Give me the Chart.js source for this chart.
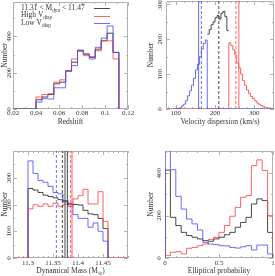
<!DOCTYPE html>
<html><head><meta charset="utf-8">
<script src="https://cdn.jsdelivr.net/npm/chart.js@4/dist/chart.umd.min.js"></script>
<style>
html,body{margin:0;padding:0;background:#fff;width:275px;height:276px;overflow:hidden;}
canvas{position:absolute;}
</style></head><body>
<canvas id="c1" width="137" height="138" style="left:0;top:0"></canvas>
<canvas id="c2" width="138" height="138" style="left:137px;top:0"></canvas>
<canvas id="c3" width="137" height="138" style="left:0;top:138px"></canvas>
<canvas id="c4" width="138" height="138" style="left:137px;top:138px"></canvas>
<script>
// ---------- DATA ----------
// Panel 1: redshift histograms
const zEdges = [0.04,0.0452,0.0503,0.0555,0.0606,0.0658,0.0709,0.0761,0.0812,0.0864,0.0915,0.0967,0.1018,0.107,0.1121];
const zAll  = [51,66,80,139,148,208,258,321,303,285,330,376,418,312];
const zHigh = [66,80,84,148,161,208,276,318,294,289,321,376,376,276];
const zLow  = [38,57,55,117,117,212,239,325,303,276,340,391,458,312];
const zTicks = [0.02,0.04,0.06,0.08,0.1,0.12];
const zTickLabels = ['0.02','0.04','0.06','0.08','0.1','0.12'];
const n1Ticks = [0,200,400];

// Panel 2: velocity dispersion histograms (5 km/s bins)
const vLowStart = 95, vMidStart = 180, vHighStart = 235, vBin = 5;
const vLow  = [0,1,2,4,9,14,24,38,52,68,88,112,128,150,172,188,198];
const vMid  = [215,228,242,250,262,268,258,275,280,265,225];
const vHigh = [190,182,170,155,132,118,100,82,68,55,45,36,30,24,18,14,10,8,5,4,2,1,0];
const vLines = {lowMed:158, lowDash:165, allDash:209.5, highDash:253, highMed:260.5};
const vTicks = [100,200,300];
const n2Ticks = [0,100,200,300];

// Panel 3: dynamical mass histograms (0.01 dex bins)
const mEdges = [11.30,11.31,11.32,11.33,11.34,11.35,11.36,11.37,11.38,11.39,11.40,11.41,11.42,11.43,11.44,11.45,11.46];
const mAll  = [260,254,245,235,230,225,218,210,203,200,198,178,165,162,148,110];
const mHigh = [184,199,193,202,193,205,193,201,193,221,233,257,202,202,248,137];
const mLow  = [363,316,290,283,268,245,240,215,200,162,148,148,115,131,100,63];
const mLines = {lowDash:11.3567, allDash:11.3687, allMed:11.374, allMed2:11.3787, highDash:11.3853, highMed:11.388};
const mTicks = [11.3,11.35,11.4,11.45];
const mTickLabels = ['11.3','11.35','11.4','11.45'];
const n3Ticks = [0,100,200,300];

// Panel 4: elliptical probability histograms (0.05 bins)
const pEdges = [0,0.05,0.1,0.15,0.2,0.25,0.3,0.35,0.4,0.45,0.5,0.55,0.6,0.65,0.7,0.75,0.8,0.85,0.9,0.95,1];
const pAll  = [415,192,153,121,106,98,90,82,79,90,98,110,121,145,168,192,255,279,271,121];
const pHigh = [11,27,30,19,46,50,58,66,87,98,121,153,197,239,287,295,436,463,413,200];
const pLow  = [560,417,291,231,184,161,132,74,66,63,58,57,50,47,53,58,38,61,61,19];
const pTicks = [0,0.5,1];
const pTickLabels = ['0','0.5','1'];
const n4Ticks = [0,200,400];

// ---------- STYLE ----------
const BLACK = 'rgba(40,40,40,0.85)';
const RED = 'rgba(255,70,70,0.85)';
const BLUE = 'rgba(70,70,255,0.8)';
const FRAME = '#b0b0b0';
const TEXT = '#333';
const FAM = "'Liberation Serif', 'DejaVu Serif', serif";

function edgesFrom(start, width, n) { const e = []; for (let i = 0; i <= n; i++) e.push(start + i * width); return e; }
function stepPts(edges, vals, opt) {
  opt = opt || {};
  const pts = [];
  if (opt.lead !== undefined) pts.push({x: opt.lead, y: 0});
  else if (!opt.noRise) pts.push({x: edges[0], y: 0});
  vals.forEach((v, i) => pts.push({x: edges[i], y: v}));
  if (opt.noDrop) pts.push({x: edges[edges.length - 1], y: vals[vals.length - 1]});
  else pts.push({x: edges[edges.length - 1], y: 0});
  if (opt.trail !== undefined) pts.push({x: opt.trail, y: 0});
  return pts;
}
function hist(data, color) {
  return {data, borderColor: color, borderWidth: 1, stepped: 'before', pointRadius: 0, fill: false};
}
function vline(x, yMax, color, dashed) {
  return {data: [{x, y: 0}, {x, y: yMax}], borderColor: color, borderWidth: 1, borderDash: dashed ? [3, 2] : [], pointRadius: 0, fill: false};
}

function richText(ctx, segs, x, y, size) {
  let cx = x;
  segs.forEach(s => {
    const fs = s.sub ? size * 0.7 : size;
    ctx.font = fs + 'px ' + FAM;
    ctx.fillText(s.t, cx, y + (s.sub ? size * 0.3 : 0));
    cx += ctx.measureText(s.t).width;
  });
  return cx - x;
}
function richWidth(ctx, segs, size) {
  let w = 0;
  segs.forEach(s => { ctx.font = (s.sub ? size * 0.7 : size) + 'px ' + FAM; w += ctx.measureText(s.t).width; });
  return w;
}

function deco(o) {
  return {
    id: 'deco',
    beforeDatasetsDraw(chart) {
      const {ctx, chartArea: a, scales: {x, y}} = chart;
      ctx.save();
      ctx.strokeStyle = FRAME; ctx.lineWidth = 1;
      ctx.beginPath();
      ctx.rect(a.left + 0.5, a.top + 0.5, a.right - a.left - 1, a.bottom - a.top - 1);
      const xt = (v, len) => { const p = Math.round(x.getPixelForValue(v)) + 0.5; ctx.moveTo(p, a.bottom); ctx.lineTo(p, a.bottom - len); ctx.moveTo(p, a.top); ctx.lineTo(p, a.top + len); };
      const yt = (v, len) => { const p = Math.round(y.getPixelForValue(v)) + 0.5; ctx.moveTo(a.left, p); ctx.lineTo(a.left + len, p); ctx.moveTo(a.right, p); ctx.lineTo(a.right - len, p); };
      x.ticks.forEach(t => xt(t.value, 4));
      y.ticks.forEach(t => yt(t.value, 4));
      const n0 = Math.ceil(x.min / o.xMinor - 1e-6), n1 = Math.floor(x.max / o.xMinor + 1e-6);
      for (let k = n0; k <= n1; k++) xt(k * o.xMinor, 2);
      const m0 = Math.ceil(y.min / o.yMinor - 1e-6), m1 = Math.floor(y.max / o.yMinor + 1e-6);
      for (let k = m0; k <= m1; k++) yt(k * o.yMinor, 2);
      ctx.stroke();
      ctx.restore();
    },
    afterDraw(chart) {
      const {ctx, chartArea: a, scales: {y}} = chart;
      ctx.save();
      ctx.fillStyle = TEXT;
      ctx.font = '7px ' + FAM;
      y.ticks.forEach(t => {
        const py = y.getPixelForValue(t.value);
        ctx.save();
        ctx.translate(a.left - o.yLabOff, py);
        ctx.rotate(-Math.PI / 2);
        ctx.textAlign = 'center'; ctx.textBaseline = 'middle';
        ctx.fillText(String(t.value), 0, 0);
        ctx.restore();
      });
      if (o.extra) o.extra(chart, ctx);
      ctx.restore();
    }
  };
}

function makeChart(id, c) {
  return new Chart(document.getElementById(id), {
    type: 'line',
    data: {datasets: c.datasets},
    options: {
      responsive: false, animation: false, devicePixelRatio: 1,
      layout: {padding: c.pad},
      plugins: {legend: {display: false}, tooltip: {enabled: false}},
      scales: {
        x: {
          type: 'linear', min: c.xMin, max: c.xMax,
          afterBuildTicks: s => { s.ticks = c.xTicks.map(v => ({value: v})); },
          afterFit: s => { s.height = c.xH; s.paddingLeft = 0; s.paddingRight = 0; },
          grid: {display: false, drawTicks: false, tickLength: 0}, border: {display: false},
          ticks: {font: {family: FAM, size: 7, lineHeight: 1}, color: TEXT, padding: c.xLabPad, autoSkip: false, maxRotation: 0,
                  callback: (v, i) => c.xLabels[i]},
          title: {display: !!c.xTitle, text: c.xTitle || '', color: TEXT, font: {family: FAM, size: 7.5, lineHeight: 1}, padding: {top: 0, bottom: c.xTitlePad}}
        },
        y: {
          type: 'linear', min: 0, max: c.yMax,
          afterBuildTicks: s => { s.ticks = c.yTicks.map(v => ({value: v})); },
          afterFit: s => { s.width = c.yW; s.paddingTop = 0; s.paddingBottom = 0; },
          grid: {display: false, drawTicks: false, tickLength: 0}, border: {display: false},
          ticks: {display: false},
          title: {display: true, text: 'Number', color: TEXT, font: {family: FAM, size: 7.5, lineHeight: 1}, padding: {top: c.yTitlePad, bottom: 0}}
        }
      }
    },
    plugins: [deco(c.deco)]
  });
}

// ---------- PANEL 1 ----------
const Y1 = 590;
makeChart('c1', {
  datasets: [
    hist(stepPts(zEdges, zLow, {}), BLUE),
    hist(stepPts(zEdges, zHigh, {}), RED),
    hist(stepPts(zEdges, zAll, {lead: 0.02}), BLACK)
  ],
  pad: {left: 0, top: 2, right: 9, bottom: 0},
  xMin: 0.02, xMax: 0.12, xTicks: zTicks, xLabels: zTickLabels, xH: 29, xLabPad: 1, xTitle: 'Redshift', xTitlePad: 12.5,
  yMax: Y1, yTicks: n1Ticks, yW: 13, yTitlePad: 1.3,
  deco: {xMinor: 0.01, yMinor: 100, yLabOff: 3.5, extra: (chart, ctx) => {
    const a = chart.chartArea;
    ctx.textBaseline = 'middle'; ctx.textAlign = 'left'; ctx.fillStyle = TEXT;
    const lx = a.left + 8;
    richText(ctx, [{t: '11.31 < M'}, {t: 'dyn', sub: true}, {t: ' < 11.47'}], lx, a.top + 6, 7.5);
    richText(ctx, [{t: 'High V'}, {t: 'disp', sub: true}], lx, a.top + 13.5, 7.5);
    richText(ctx, [{t: 'Low V'}, {t: 'disp', sub: true}], lx, a.top + 21, 7.5);
    [[BLACK, 6], [RED, 13.5], [BLUE, 21]].forEach(([col, dy]) => {
      ctx.strokeStyle = col; ctx.lineWidth = 1; ctx.beginPath();
      ctx.moveTo(a.left + 81, Math.round(a.top + dy) + 0.5); ctx.lineTo(a.left + 97, Math.round(a.top + dy) + 0.5); ctx.stroke();
    });
  }}
});

// ---------- PANEL 2 ----------
const Y2 = 310;
const vLowEdges = edgesFrom(vLowStart, vBin, vLow.length);
const vMidEdges = edgesFrom(vMidStart, vBin, vMid.length);
const vHighEdges = edgesFrom(vHighStart, vBin, vHigh.length);
makeChart('c2', {
  datasets: [
    vline(vLines.lowMed, Y2, BLUE, false),
    vline(vLines.lowDash, Y2, BLUE, true),
    vline(vLines.allDash, Y2, BLACK, true),
    vline(vLines.highDash, Y2, RED, true),
    vline(vLines.highMed, Y2, RED, false),
    hist(stepPts(vLowEdges, vLow, {noRise: true, trail: 350}), BLUE),
    hist(stepPts(vHighEdges, vHigh, {lead: 75}), RED),
    hist(stepPts(vMidEdges, vMid, {noRise: true, noDrop: true}), BLACK)
  ],
  pad: {left: 0, top: 1, right: 1, bottom: 0},
  xMin: 75, xMax: 350, xTicks: vTicks, xLabels: ['100','200','300'], xH: 29, xLabPad: 1, xTitle: 'Velocity dispersion (km/s)', xTitlePad: 12.5,
  yMax: Y2, yTicks: n2Ticks, yW: 29, yTitlePad: 10,
  deco: {xMinor: 20, yMinor: 50, yLabOff: 5.5}
});

// ---------- PANEL 3 ----------
const Y3 = 400;
makeChart('c3', {
  datasets: [
    vline(mLines.lowDash, Y3, BLUE, true),
    vline(mLines.allDash, Y3, BLACK, true),
    vline(mLines.allMed, Y3, BLACK, false),
    vline(mLines.allMed2, Y3, BLACK, false),
    vline(mLines.highDash, Y3, RED, true),
    vline(mLines.highMed, Y3, RED, false),
    hist(stepPts(mEdges, mLow, {}), BLUE),
    hist(stepPts(mEdges, mHigh, {lead: 11.27, trail: 11.50}), RED),
    hist(stepPts(mEdges, mAll, {}), BLACK)
  ],
  pad: {left: 0, top: 13, right: 9, bottom: 0},
  xMin: 11.27, xMax: 11.50, xTicks: mTicks, xLabels: mTickLabels, xH: 18, xLabPad: 2, xTitle: '', xTitlePad: 1,
  yMax: Y3, yTicks: n3Ticks, yW: 13, yTitlePad: 1.3,
  deco: {xMinor: 0.01, yMinor: 50, yLabOff: 3.5, extra: (chart, ctx) => {
    const a = chart.chartArea;
    const segs = [{t: 'Dynamical Mass (M'}, {t: '\u2299', sub: true}, {t: ')'}];
    const w = richWidth(ctx, segs, 7.5);
    ctx.textBaseline = 'middle'; ctx.textAlign = 'left'; ctx.fillStyle = TEXT;
    richText(ctx, segs, (a.left + a.right) / 2 - w / 2, 133, 7.5);
  }}
});

// ---------- PANEL 4 ----------
const Y4 = 505;
makeChart('c4', {
  datasets: [
    hist(stepPts(pEdges, pLow, {}), BLUE),
    hist(stepPts(pEdges, pHigh, {}), RED),
    hist(stepPts(pEdges, pAll, {}), BLACK)
  ],
  pad: {left: 0, top: 13, right: 2, bottom: 0},
  xMin: 0, xMax: 1, xTicks: pTicks, xLabels: pTickLabels, xH: 18, xLabPad: 2, xTitle: 'Elliptical probability', xTitlePad: 1.3,
  yMax: Y4, yTicks: n4Ticks, yW: 28, yTitlePad: 10,
  deco: {xMinor: 0.1, yMinor: 100, yLabOff: 5.5}
});
</script>
</body></html>
